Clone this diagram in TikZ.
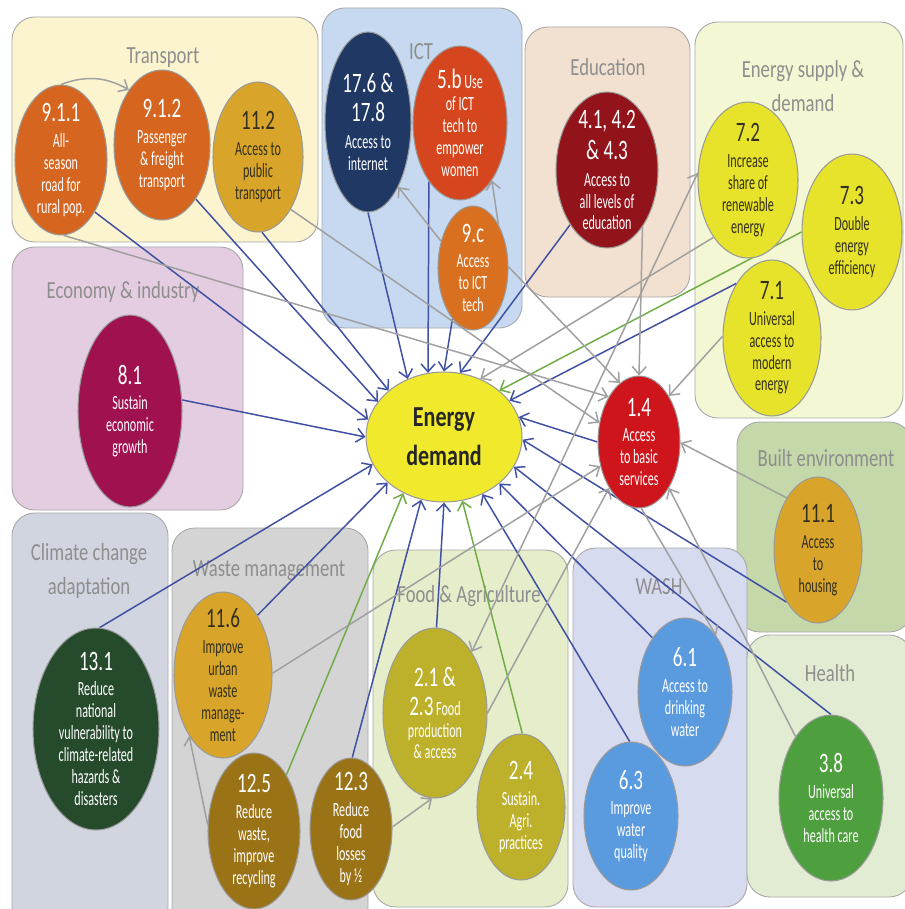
\documentclass[tikz,border=0pt]{standalone}
\usepackage{fontspec}
\setmainfont{Carlito}[FakeStretch=0.6]
\newfontfamily\widefont{Carlito}[FakeStretch=0.76]
\newfontfamily\numfont{Carlito}[FakeStretch=0.68]
\usetikzlibrary{shapes.geometric,arrows.meta}

% group backgrounds
\definecolor{bxTransport}{HTML}{FBF4CF}
\definecolor{bxICT}{HTML}{C6D9F0}
\definecolor{bxEdu}{HTML}{F2E1D0}
\definecolor{bxEnergy}{HTML}{F4F7D3}
\definecolor{bxEcon}{HTML}{E4CDE0}
\definecolor{bxBuilt}{HTML}{C4D8AA}
\definecolor{bxClim}{HTML}{D0D5E0}
\definecolor{bxWaste}{HTML}{D4D4D4}
\definecolor{bxFood}{HTML}{E5EDCB}
\definecolor{bxWASH}{HTML}{D6DBF0}
\definecolor{bxHealth}{HTML}{E2ECD3}
\definecolor{boxline}{HTML}{A8A8A8}
\definecolor{ttlgray}{HTML}{8E8E8E}
% goal fills
\definecolor{cOrange}{HTML}{D5651F}
\definecolor{cGold}{HTML}{D8A52A}
\definecolor{cNavy}{HTML}{1F3864}
\definecolor{cRedOr}{HTML}{D5461E}
\definecolor{cOrange2}{HTML}{D9701F}
\definecolor{cMaroon}{HTML}{93131A}
\definecolor{cYellow}{HTML}{E7E22A}
\definecolor{cPlum}{HTML}{A0114F}
\definecolor{cCore}{HTML}{F0E92C}
\definecolor{cRed}{HTML}{CE151C}
\definecolor{cBlue}{HTML}{5A9BE0}
\definecolor{cGreen}{HTML}{4E9F3D}
\definecolor{cForest}{HTML}{264A2C}
\definecolor{cBrown}{HTML}{9A7317}
\definecolor{cOlive}{HTML}{BDB12B}
\definecolor{darktext}{HTML}{33301F}
\definecolor{ringgray}{HTML}{9A9A9A}
% connectors
\definecolor{lnBlue}{HTML}{4051A3}
\definecolor{lnGreen}{HTML}{70AD47}
\definecolor{lnGray}{HTML}{A0A0A0}

\newcommand\nm[1]{{\numfont\fontsize{16}{16}\selectfont #1}}
\newcommand\bodyfont{\fontsize{11.5}{12.5}\selectfont}

\pgfdeclarelayer{bg}
\pgfdeclarelayer{links}
\pgfsetlayers{bg,links,main}

\tikzset{
  grp/.style={draw=boxline, line width=0.5pt, rounded corners=13pt},
  ttl/.style={text=ttlgray, font=\widefont\fontsize{14}{19}\selectfont, align=center, inner sep=0pt},
  goal/.style={ellipse, draw=ringgray, line width=0.6pt, inner xsep=-4pt, inner ysep=-14pt,
               align=center, font=\bodyfont, text=white},
  dk/.style={text=darktext},
  wh/.style 2 args={minimum width=#1cm, minimum height=#2cm},
  ln/.style={line width=0.85pt, -{Straight Barb[length=4.5pt,width=8pt]}},
  bl/.style={ln, draw=lnBlue},
  gr/.style={ln, draw=lnGreen},
  gy/.style={ln, draw=lnGray},
}

\begin{document}
\begin{tikzpicture}[x=0.02cm, y=-0.02cm]
\useasboundingbox (0,0) rectangle (905,909);
\clip (0,0) rectangle (905,909);

% ---------- thematic groups ----------
\begin{pgfonlayer}{bg}
  \fill[white] (0,0) rectangle (905,909);
  \draw[grp, fill=bxTransport] (12,17) rectangle (318,242);
  \draw[grp, fill=bxICT] (322,8) rectangle (522,328);
  \draw[grp, fill=bxEdu] (525,27) rectangle (690,297);
  \draw[grp, fill=bxEnergy] (695,22) rectangle (903,418);
  \draw[grp, fill=bxEcon] (12,247) rectangle (243,510);
  \draw[grp, fill=bxBuilt] (737,422) rectangle (912,632);
  \draw[grp, fill=bxClim] (12,513) rectangle (168,930);
  \draw[grp, fill=bxWaste] (172,528) rectangle (368,930);
  \draw[grp, fill=bxFood] (373,550) rectangle (568,907);
  \draw[grp, fill=bxWASH] (573,548) rectangle (747,907);
  \draw[grp, fill=bxHealth] (747,635) rectangle (912,897);

  \node[ttl] (tTransport) at (163,58) {Transport};
  \node[ttl] (tICT) at (421,52) {ICT};
  \node[ttl] (tEdu) at (608,67) {Education};
  \node[ttl] (tEnergy) at (803,86) {Energy supply \&\\demand};
  \node[ttl] (tEcon) at (123,292) {Economy \& industry};
  \node[ttl] (tClim) at (89,571) {Climate change\\adaptation};
  \node[ttl] (tWaste) at (269,571) {Waste management};
  \node[ttl] (tFood) at (469,596) {Food \& Agriculture};
  \node[ttl] (tWASH) at (659,587) {WASH};
  \node[ttl] (tBuilt) at (826,458) {Built environment};
  \node[ttl] (tHealth) at (830,673) {Health};
\end{pgfonlayer}

% ---------- goals ----------
\node[goal, fill=cOrange, wh={1.84}{3.0}] (n911) at (61,160)
  {\nm{9.1.1}\\[2pt]All-\\season\\road for\\rural pop.};
\node[goal, fill=cOrange, wh={1.92}{3.0}] (n912) at (162,145)
  {\nm{9.1.2}\\[2pt]Passenger\\\& freight\\transport};
\node[goal, dk, fill=cGold, wh={1.8}{3.0}] (n112) at (258,157)
  {\nm{11.2}\\[2pt]Access to\\public\\transport};
\node[goal, fill=cNavy, wh={1.72}{3.6}] (n176) at (368,122)
  {\nm{17.6 \&}\\[4pt]\nm{17.8}\\[2.5pt]Access to\\internet};
\node[goal, fill=cRedOr, wh={1.88}{3.08}] (n5b) at (460,123)
  {\nm{5.b} Use\\of ICT\\tech to\\empower\\women};
\node[goal, fill=cOrange2, wh={1.4}{2.48}] (n9c) at (473,268)
  {\nm{9.c}\\[2pt]Access\\to ICT\\tech};
\node[goal, fill=cMaroon, wh={2.04}{3.12}] (n4x) at (607,170)
  {\nm{4.1, 4.2}\\[4pt]\nm{\& 4.3}\\[2.5pt]Access to\\all levels of\\education};
\node[goal, dk, fill=cYellow, wh={2.0}{3.12}] (n72) at (748,180)
  {\nm{7.2}\\[2pt]Increase\\share of\\renewable\\energy};
\node[goal, dk, fill=cYellow, wh={2.0}{3.12}] (n73) at (852,232)
  {\nm{7.3}\\[2pt]Double\\energy\\efficiency};
\node[goal, dk, fill=cYellow, wh={1.96}{3.12}] (n71) at (772,338)
  {\nm{7.1}\\[2pt]Universal\\access to\\modern\\energy};
\node[goal, fill=cPlum, wh={2.08}{3.84}] (n81) at (130,411)
  {\nm{8.1}\\[2pt]Sustain\\economic\\growth};
\node[goal, fill=cCore, text=black!85, wh={3.12}{2.6},
      font=\widefont\bfseries\fontsize{16.5}{22}\selectfont] (E) at (444,437)
  {Energy\\demand};
\node[goal, fill=cRed, wh={1.64}{2.64}] (n14) at (639,442)
  {\nm{1.4}\\[2pt]Access\\to basic\\services};
\node[goal, dk, fill=cGold, wh={1.76}{2.92}] (n111) at (818,550)
  {\nm{11.1}\\[2pt]Access\\to\\housing};
\node[goal, fill=cBlue, wh={1.88}{2.96}] (n61) at (685,692)
  {\nm{6.1}\\[2pt]Access to\\drinking\\water};
\node[goal, fill=cBlue, wh={1.88}{2.96}] (n63) at (631,816)
  {\nm{6.3}\\[2pt]Improve\\water\\quality};
\node[goal, fill=cGreen, wh={2.08}{3.32}] (n38) at (831,798)
  {\nm{3.8}\\[2pt]Universal\\access to\\health care};
\node[goal, fill=cForest, wh={2.52}{4.04}] (n131) at (96,729)
  {\nm{13.1}\\[2pt]Reduce\\national\\vulnerability to\\climate-related\\hazards \&\\disasters};
\node[goal, dk, fill=cGold, wh={1.96}{3.32}] (n116) at (223,675)
  {\nm{11.6}\\[2pt]Improve\\urban\\waste\\manage-\\ment};
\node[goal, fill=cBrown, wh={1.84}{3.12}] (n125) at (254,831)
  {\nm{12.5}\\[2pt]Reduce\\waste,\\improve\\recycling};
\node[goal, fill=cBrown, wh={1.64}{2.84}] (n123) at (351,829)
  {\nm{12.3}\\[2pt]Reduce\\food\\losses\\by ½};
\node[goal, fill=cOlive, wh={2.08}{3.4}] (n21) at (435,713)
  {\nm{2.1 \&}\\[4pt]\nm{2.3} Food\\production\\\& access};
\node[goal, fill=cOlive, wh={1.76}{2.92}] (n24) at (521,807)
  {\nm{2.4}\\[2pt]Sustain.\\Agri.\\practices};

% ---------- links ----------
\begin{pgfonlayer}{links}
  % into energy demand
  \draw[bl] (n176.270) -- (E.122);
  \draw[bl] (n112.273) -- (E.140);
  \draw[bl] (n912.302) -- (E.152);
  \draw[bl] (n911.303) -- (E.167);
  \draw[bl] (n81.12)   -- (E.180);
  \draw[bl] (n131.88)  -- (E.201);
  \draw[bl] (n116.60)  -- (E.219);
  \draw[gr] (n125.60)  -- (E.234);
  \draw[bl] (n123.89)  -- (E.250);
  \draw[bl] (n21.89)   -- (E.270);
  \draw[gr] (n24.89)   -- (E.286);
  \draw[bl] (n63.91)   -- (E.304);
  \draw[bl] (n61.121)  -- (E.320);
  \draw[bl] (n38.90)   -- (E.337);
  \draw[bl] (n111.239) -- (E.358);
  \draw[bl] (n14.180)  -- (E.15);
  \draw[bl] (n71.123)  -- (E.29);
  \draw[gr] (n73.180)  -- (E.40);
  \draw[gy] (n72.239)  -- (E.58);
  \draw[bl] (n4x.236)  -- (E.76);
  \draw[bl] (n9c.248)  -- (E.90);
  \draw[bl] (n5b.242)  -- (E.104);
  % into access to basic services
  \draw[gy] (n9c.2)    -- (n14.108);
  \draw[gy] (n911.272) -- (n14.124);
  \draw[gy] (n112.302) -- (n14.154);
  \draw[gy] (n4x.302)  -- (n14.90);
  \draw[gy] (n71.178)  -- (n14.57);
  \draw[gy] (n111.121) -- (n14.359);
  \draw[gy] (n38.120)  -- (n14.303);
  \draw[gy] (n21.0)    -- (n14.237);
  \draw[gy] (n116.2)   -- (n14.212);
  \draw[gy] (n14.272)  -- (n61.61);
  % other links
  \draw[gy] (n911.90) to[bend left=25] (n912.121);
  \draw[gy] (n125.172) -- (n116.241);
  \draw[gy] (n123.3)   -- (n21.268);
  \draw[gy] (n9c.140)  -- (n176.295);
  \draw[gy] (n9c.60)   -- (n5b.299);
  \draw[gy, {Straight Barb[length=4.5pt,width=8pt]}-{Straight Barb[length=4.5pt,width=8pt]}] (n21.59) -- (n72.172);
\end{pgfonlayer}
\end{tikzpicture}
\end{document}
